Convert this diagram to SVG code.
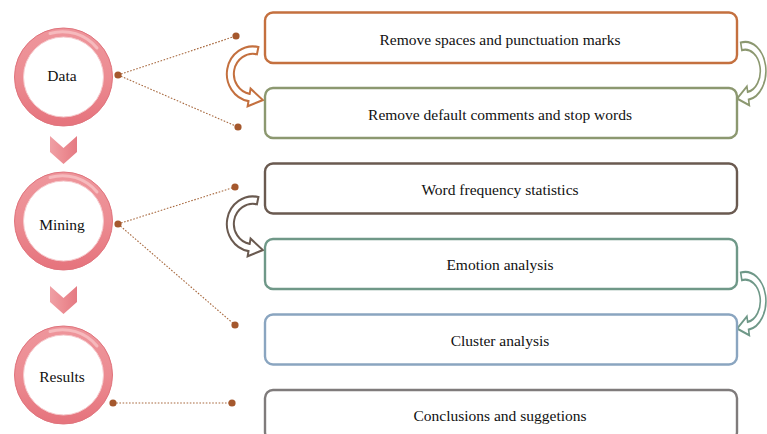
<svg xmlns="http://www.w3.org/2000/svg" width="767" height="434" viewBox="0 0 767 434">
<style>
text{font-family:'Liberation Serif','DejaVu Serif',serif}
.lbl{font-size:15.5px;fill:#111;text-anchor:middle}
.box{fill:#fff;stroke-width:2.4}
.dot{fill:#A5582D}
.dl{stroke:#A86A40;stroke-width:1.1;stroke-dasharray:1.6 1.6;fill:none}
.ring{fill:#fff;stroke:url(#ringG);stroke-width:9}
.ringE{fill:none;stroke:#E0747D;stroke-width:1}
.ringI{fill:none;stroke:#F6C9CC;stroke-width:1}
.hl{fill:none;stroke:#F7C3C6;stroke-width:3;stroke-linecap:round;opacity:0.8}
.chev{fill:url(#chevG)}
.carr{fill:#fff;stroke-width:2;vector-effect:non-scaling-stroke}
</style>
<defs>
<linearGradient id="ringG" x1="0" y1="0" x2="0" y2="1">
<stop offset="0" stop-color="#EE959B"/>
<stop offset="0.5" stop-color="#EC8C92"/>
<stop offset="1" stop-color="#E6757E"/>
</linearGradient>
<linearGradient id="chevG" x1="0" y1="0" x2="1" y2="0">
<stop offset="0" stop-color="#EFA0A5"/>
<stop offset="0.5" stop-color="#EC8C92"/>
<stop offset="1" stop-color="#E47A82"/>
</linearGradient>
<path id="carrow" d="M5.41,-25.43 A26,26 0 1 0 -4.51,25.6 L-5.38,30.53 L9.88,24.6 L-2.43,13.79 L-3.3,18.71 A19,19 0 1 1 3.95,-18.58 Z"/>
<path id="chevron" d="M-13.5,0 L0,12 L13.5,0 L13.5,16 L0,28 L-13.5,16 Z"/>
</defs>
<rect width="767" height="434" fill="#fff"/>

<g id="connectors">
<line class="dl" x1="118" y1="75" x2="236" y2="36"/>
<line class="dl" x1="118" y1="75" x2="238" y2="127"/>
<line class="dl" x1="118" y1="224" x2="235" y2="187"/>
<line class="dl" x1="118" y1="224" x2="235" y2="325"/>
<line class="dl" x1="113" y1="403" x2="232" y2="403"/>
<circle class="dot" cx="118" cy="75" r="3.6"/>
<circle class="dot" cx="236" cy="36" r="3.6"/>
<circle class="dot" cx="238" cy="127" r="3.6"/>
<circle class="dot" cx="118" cy="224" r="3.6"/>
<circle class="dot" cx="235" cy="187" r="3.6"/>
<circle class="dot" cx="235" cy="325" r="3.6"/>
<circle class="dot" cx="113" cy="403" r="3.6"/>
<circle class="dot" cx="232" cy="403" r="3.6"/>
<use href="#chevron" class="chev" transform="translate(63.5,136)"/>
<use href="#chevron" class="chev" transform="translate(63.5,286)"/>
<use href="#carrow" class="carr" stroke="#C4703F" transform="translate(253,74) scale(1,1.06)"/>
<use href="#carrow" class="carr" stroke="#6A5A50" transform="translate(253,224) scale(1,1.06)"/>
<use href="#carrow" class="carr" stroke="#8C9870" transform="translate(745,71) scale(-0.8,1.12)"/>
<use href="#carrow" class="carr" stroke="#6F9888" transform="translate(745,301) scale(-0.8,1.12)"/>
</g>

<g id="data">
<circle class="ring" cx="63.5" cy="77" r="44.5"/>
<circle class="ringE" cx="63.5" cy="77" r="49"/>
<circle class="ringI" cx="63.5" cy="77" r="40"/>
<path class="hl" d="M50,33.5 A44.5,44.5 0 0 1 97,48"/>
<text class="lbl" x="62" y="81" font-family="Liberation Serif, serif">Data</text>
</g>
<g id="mining">
<circle class="ring" cx="63.5" cy="221" r="44.5"/>
<circle class="ringE" cx="63.5" cy="221" r="49"/>
<circle class="ringI" cx="63.5" cy="221" r="40"/>
<path class="hl" d="M50,177.5 A44.5,44.5 0 0 1 97,192"/>
<text class="lbl" x="62" y="230" font-family="Liberation Serif, serif">Mining</text>
</g>
<g id="results">
<circle class="ring" cx="63.5" cy="375" r="44.5"/>
<circle class="ringE" cx="63.5" cy="375" r="49"/>
<circle class="ringI" cx="63.5" cy="375" r="40"/>
<path class="hl" d="M50,331.5 A44.5,44.5 0 0 1 97,346"/>
<text class="lbl" x="62" y="382" font-family="Liberation Serif, serif">Results</text>
</g>

<g id="box1">
<rect class="box" stroke="#C4703F" x="265" y="12.5" width="472" height="50.5" rx="8"/>
<text class="lbl" x="500" y="44.5" font-family="Liberation Serif, serif">Remove spaces and punctuation marks</text>
</g>
<g id="box2">
<rect class="box" stroke="#8C9870" x="265" y="88" width="472" height="50" rx="8"/>
<text class="lbl" x="500" y="119.5" font-family="Liberation Serif, serif">Remove default comments and stop words</text>
</g>
<g id="box3">
<rect class="box" stroke="#6A5A50" x="265" y="163.5" width="472" height="50" rx="8"/>
<text class="lbl" x="500" y="194.5" font-family="Liberation Serif, serif">Word frequency statistics</text>
</g>
<g id="box4">
<rect class="box" stroke="#6F9888" x="265" y="239" width="472" height="50" rx="8"/>
<text class="lbl" x="500" y="270" font-family="Liberation Serif, serif">Emotion analysis</text>
</g>
<g id="box5">
<rect class="box" stroke="#8AA5C0" x="265" y="314.5" width="472" height="50" rx="8"/>
<text class="lbl" x="500" y="345.5" font-family="Liberation Serif, serif">Cluster analysis</text>
</g>
<g id="box6">
<rect class="box" stroke="#7F7B7B" x="265" y="390" width="472" height="50" rx="8"/>
<text class="lbl" x="500" y="421" font-family="Liberation Serif, serif">Conclusions and suggetions</text>
</g>
</svg>
